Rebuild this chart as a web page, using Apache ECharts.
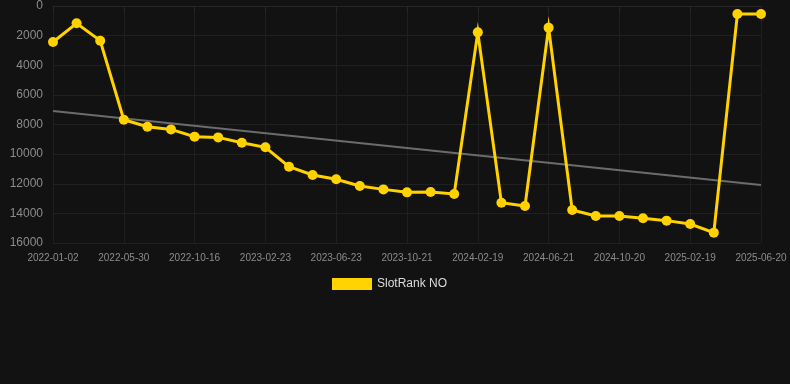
<!DOCTYPE html>
<html>
<head>
<meta charset="utf-8">
<script src="https://cdn.jsdelivr.net/npm/echarts@6/dist/echarts.min.js"></script>
<style>
  html, body { margin: 0; padding: 0; background: #121212; }
  #chart { width: 790px; height: 384px; }
</style>
</head>
<body>
<div id="chart"></div>
<script>
const dates = [
  "2022-01-02", "2022-02-20", "2022-04-10", "2022-05-30", "2022-07-15", "2022-08-31",
  "2022-10-16", "2022-11-30", "2023-01-10", "2023-02-23", "2023-04-05", "2023-05-15",
  "2023-06-23", "2023-08-02", "2023-09-11", "2023-10-21", "2023-12-01", "2024-01-10",
  "2024-02-19", "2024-04-01", "2024-05-11", "2024-06-21", "2024-08-01", "2024-09-10",
  "2024-10-20", "2024-12-01", "2025-01-10", "2025-02-19", "2025-04-01", "2025-05-11",
  "2025-06-20"
];
const rankNO = [
  2430, 1170, 2340, 7680, 8150, 8330, 8820, 8870, 9230, 9540, 10850, 11410,
  11700, 12150, 12380, 12580, 12560, 12690, 1780, 13280, 13500, 1460, 13770, 14180,
  14180, 14330, 14490, 14720, 15300, 540, 540
];
// trend line ends, first and last date
const trendEnds = [7090, 12080];
const yTicks = { min: 0, max: 16000, step: 2000 };

const trend = dates.map((d, i) => i === 0 ? trendEnds[0] : i === dates.length - 1 ? trendEnds[1] : null);

const chart = echarts.init(document.getElementById("chart"));
chart.setOption({
  backgroundColor: "#121212",
  animation: false,
  grid: { left: 53, right: 29, top: 6, bottom: 141 },
  legend: {
    data: ["SlotRank NO"],
    top: 273,
    left: 327,
    itemWidth: 40,
    itemHeight: 12,
    icon: "rect",
    textStyle: { color: "#dddddd", fontSize: 12, fontFamily: "Arial, Liberation Sans, sans-serif" },
  },
  xAxis: {
    type: "category",
    data: dates,
    boundaryGap: false,
    axisLine: { show: true, lineStyle: { color: "#262626" } },
    axisTick: { show: true, interval: 2, length: 7, lineStyle: { color: "#262626" } },
    axisLabel: { interval: 2, color: "#8c8c8c", fontSize: 10, margin: 10, fontFamily: "Arial, Liberation Sans, sans-serif" },
    splitLine: { show: true, interval: 2, lineStyle: { color: "#1f1f1f" } },
  },
  yAxis: {
    type: "value",
    inverse: true,
    min: yTicks.min,
    max: yTicks.max,
    interval: yTicks.step,
    axisLine: { show: false },
    axisTick: { show: false },
    axisLabel: {
      color: "#8c8c8c", fontSize: 12, margin: 10, fontFamily: "Arial, Liberation Sans, sans-serif",
      formatter: (v) => String(v),
    },
    splitLine: { lineStyle: { color: "#202020" } },
  },
  series: [
    {
      name: "Trend",
      type: "line",
      data: trend,
      connectNulls: true,
      showSymbol: false,
      silent: true,
      lineStyle: { color: "#6c6c6c", width: 2 },
      itemStyle: { color: "#6c6c6c" },
      z: 1,
    },
    {
      name: "SlotRank NO",
      type: "line",
      data: rankNO,
      symbol: "circle",
      symbolSize: 10,
      lineStyle: { color: "#ffd200", width: 3, join: "miter", miterLimit: 20 },
      itemStyle: { color: "#ffd200" },
      z: 2,
    },
  ],
});
</script>
</body>
</html>
